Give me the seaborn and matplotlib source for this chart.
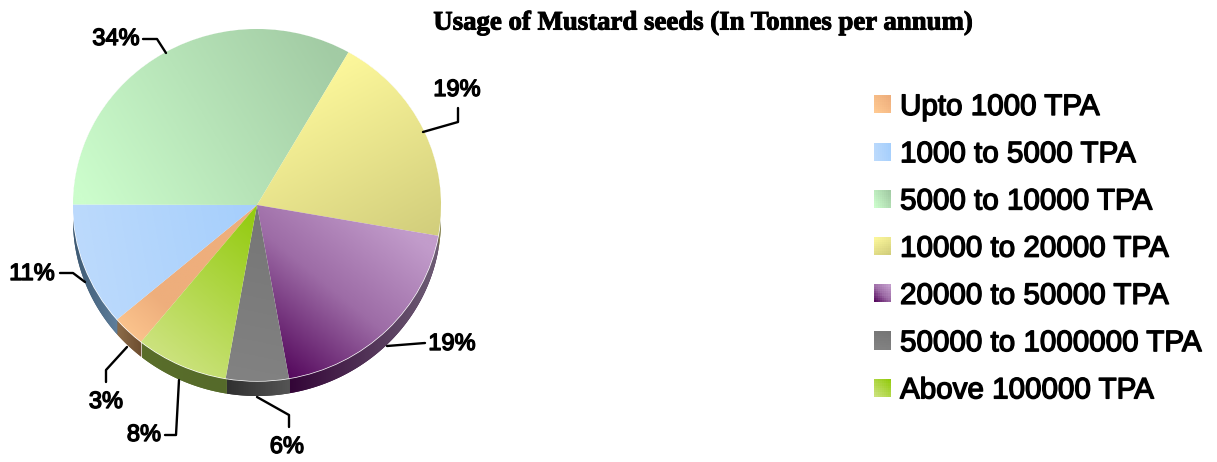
import numpy as np
import matplotlib
matplotlib.use("Agg")
import matplotlib.pyplot as plt
import matplotlib.patheffects as pe
from matplotlib.legend_handler import HandlerBase
from matplotlib.patches import Rectangle, Polygon
import seaborn as sns

# ---- data ----
categories = ["Upto 1000 TPA", "1000 to 5000 TPA", "5000 to 10000 TPA", "10000 to 20000 TPA",
              "20000 to 50000 TPA", "50000 to 1000000 TPA", "Above 100000 TPA"]
slice_shares = [2.9, 11.3, 33.2, 19.5, 19.4, 5.5, 8.1]
slice_labels = ["3%", "11%", "34%", "19%", "19%", "6%", "8%"]
chart_title = "Usage of Mustard seeds (In Tonnes per annum)"

# ---- styles ----
W, H = 1217, 462
CX, CY, RX, RY, DEPTH = 257, 205, 184, 176, 15
def dx(px): return (px - CX) / RX
def dy(py): return (CY - py) / RY

top_cols = [("#ffca92", "#eeae7c"), ("#bcdafc", "#a6cffc"), ("#ccfdcc", "#a2cba4"),
            ("#fbf69a", "#d2ce7c"), ("#560a5e", "#9d6ca6", "#c29ccb"), ("#828282", "#767676"), ("#cbe27c", "#94cb10")]
# gradient endpoints (px) for each slice
top_grad = [((118, 345), (160, 300)), ((75, 240), (250, 210)), ((90, 210), (340, 60)),
            ((350, 60), (440, 230)), ((300, 385), (420, 240)), ((225, 380), (260, 210)), ((150, 345), (255, 215))]
rim_cols = [("#8a6a48", "#6e4e30"), ("#3e5a74", "#5f7f9c"), ("#5f7f5f", "#5f7f5f"), ("#706f3e", "#8a8850"),
            ("#330537", "#6f5f76"), ("#2f2f2f", "#555555"), ("#5a6e2a", "#556a2a")]
rim_x = [(118, 140), (73, 118), (73, 348), (430, 441), (290, 440), (225, 290), (140, 225)]

# (points in px) leader lines and label centres
leaders = [[(127, 347), (106, 370), (106, 382)], [(60, 273), (73, 273), (85, 282)],
           [(143, 39), (157, 39), (166, 53)], [(423, 132), (458, 122), (458, 108)],
           [(387, 346), (425, 343)], [(257, 397), (289, 415), (289, 427)],
           [(179, 380), (176, 435), (165, 435)]]
label_pos = [(106, 402), (32, 274), (116, 39), (457, 90), (452, 344), (287, 447), (144, 435)]

sns.set_theme(style="white")
plt.rcParams["font.family"] = ["Liberation Sans", "DejaVu Sans"]

fig = plt.figure(figsize=(W / 100, H / 100), dpi=100)
ax = fig.add_axes([0, 0, 1, 1])
xs = np.linspace(0, W, 600)
ys = np.linspace(0, H, 240)
GX, GY = np.meshgrid(xs, ys)
extent = (dx(0), dx(W), dy(H), dy(0))

def grad_image(p0, p1, cols, clip):
    p0, p1 = np.array(p0, float), np.array(p1, float)
    d = p1 - p0
    t = ((GX - p0[0]) * d[0] + (GY - p0[1]) * d[1]) / (d @ d)
    cmap = sns.blend_palette(cols, as_cmap=True)
    im = ax.imshow(np.clip(t, 0, 1), extent=extent, origin="upper", aspect="auto", cmap=cmap,
                   vmin=0, vmax=1, interpolation="bilinear", zorder=clip.get_zorder())
    im.set_clip_path(clip)

START = 231.0
# side wall of the pie: a band under each slice's outer arc
angle = START
for share, cols, (a, b) in zip(slice_shares, rim_cols, rim_x):
    next_angle = angle - share * 3.6
    th = np.radians(np.linspace(angle, next_angle, 60))
    upper = np.column_stack([np.cos(th), np.sin(th)])
    lower = (upper - [0, DEPTH / RY])[::-1]
    band = Polygon(np.vstack([upper, lower]), closed=True, facecolor=cols[0], edgecolor="none", zorder=1)
    ax.add_patch(band)
    grad_image((a, 300), (b, 300), cols, band)
    angle = next_angle

wedges, _ = ax.pie(slice_shares, startangle=START, counterclock=False, radius=1,
                   colors=[c[0] for c in top_cols])
for w, cols, (p0, p1) in zip(wedges, top_cols, top_grad):
    w.set_zorder(2)
    grad_image(p0, p1, cols, w)

ax.set_aspect("auto")
ax.set_xlim(dx(0), dx(W))
ax.set_ylim(dy(H), dy(0))
ax.axis("off")

bold = [pe.withStroke(linewidth=1.0, foreground="black")]
for pts, lab, pos in zip(leaders, slice_labels, label_pos):
    ax.plot([dx(p[0]) for p in pts], [dy(p[1]) for p in pts], color="black", lw=1.7, zorder=3,
            solid_joinstyle="round")
    ax.text(dx(pos[0]), dy(pos[1]), lab, ha="center", va="center", fontsize=17, color="black",
            path_effects=bold, zorder=4)

ax.text(dx(702.5), dy(23), chart_title, ha="center", va="center", fontsize=19.3, fontweight="bold",
        family="Liberation Serif", color="black", zorder=4,
        path_effects=[pe.withStroke(linewidth=0.7, foreground="black")])

class GradHandle(HandlerBase):
    def __init__(self, cols, grad):
        super().__init__()
        self.cols = cols
        self.gx = grad[1][0] - grad[0][0]
        self.gy = grad[1][1] - grad[0][1]
    def create_artists(self, legend, orig, xd, yd, width, height, fontsize, trans):
        cmap = sns.blend_palette(self.cols, as_cmap=True)
        n = 8
        out = []
        norm = np.hypot(self.gx, self.gy)
        ux, uy = self.gx / norm, self.gy / norm
        for i in range(n):
            for j in range(n):
                a, b = i / (n - 1) - 0.5, 0.5 - j / (n - 1)
                t = 0.5 + (a * ux + b * uy) / (abs(ux) + abs(uy))
                out.append(Rectangle((-xd + width * i / n, -yd + height * j / n), width / n + 0.2, height / n + 0.2,
                                     facecolor=cmap(t), edgecolor="none", transform=trans))
        return out

handles = [Rectangle((0, 0), 1, 1) for _ in categories]
leg = ax.legend(handles, categories, loc="upper left",
                bbox_to_anchor=(874 / W, 1 - 93 / H), bbox_transform=fig.transFigure,
                fontsize=21.3, frameon=False, borderpad=0, borderaxespad=0, labelcolor="black",
                handlelength=0.55, handleheight=0.55, handletextpad=0.33, labelspacing=0.65,
                handler_map={h: GradHandle(c, g) for h, c, g in zip(handles, top_cols, top_grad)})
for t in leg.get_texts():
    t.set_path_effects([pe.withStroke(linewidth=1.0, foreground="black")])

fig.savefig("out.png", dpi=100, facecolor="white")
